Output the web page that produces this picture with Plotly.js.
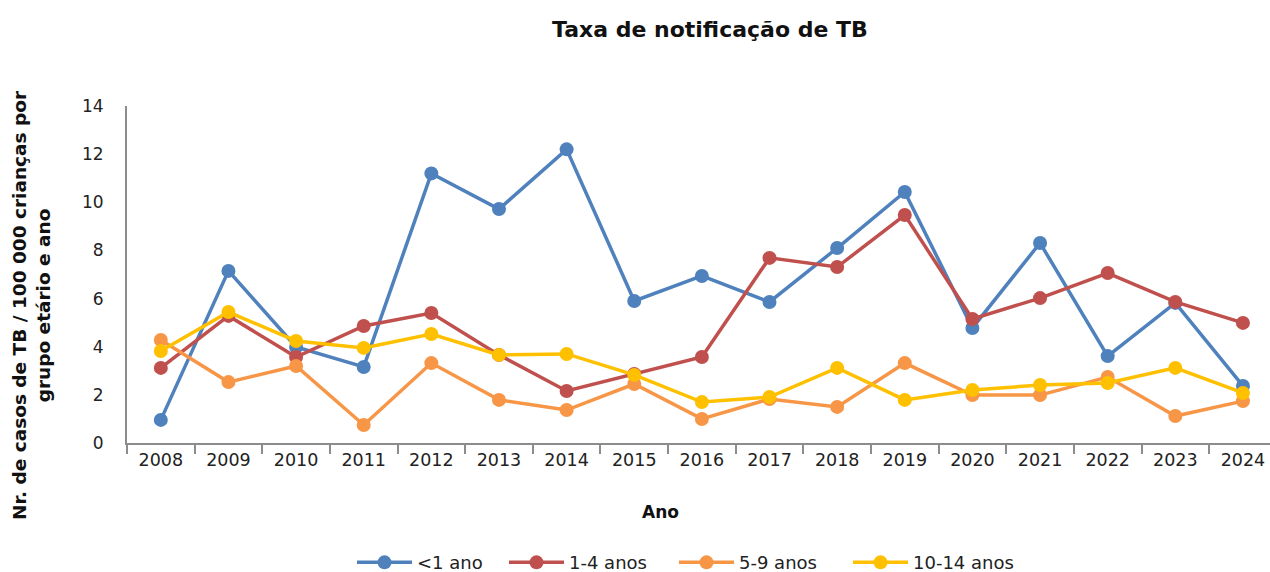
<!DOCTYPE html>
<html><head><meta charset="utf-8">
<script src="https://cdn.plot.ly/plotly-3.0.1.min.js"></script>
<style>html,body{margin:0;padding:0;background:#fff;}#chart{width:1270px;height:572px;}</style>
</head><body><div id="chart"></div>
<script>
const years = ['2008','2009','2010','2011','2012','2013','2014','2015','2016','2017','2018','2019','2020','2021','2022','2023','2024'];
const seriesNames = ['<1 ano','1-4 anos','5-9 anos','10-14 anos'];
const lt1 = [0.96,7.15,3.99,3.16,11.2,9.72,12.2,5.9,6.94,5.86,8.1,10.43,4.78,8.31,3.61,5.82,2.37];
const a1to4 = [3.12,5.28,3.57,4.86,5.4,3.66,2.16,2.87,3.57,7.69,7.31,9.47,5.15,6.02,7.06,5.86,4.99];
const a5to9 = [4.28,2.53,3.2,0.75,3.32,1.79,1.37,2.45,1.0,1.83,1.5,3.32,1.99,1.99,2.74,1.12,1.74];
const a10to14 = [3.82,5.44,4.24,3.95,4.53,3.66,3.7,2.83,1.7,1.91,3.12,1.79,2.2,2.41,2.49,3.12,2.08];
const colors = ['#4f81bd','#c0504d','#f79646','#ffc000'];
const FONT = '"DejaVu Sans", Verdana, sans-serif';
const legendIds = ['legend','legend2','legend3','legend4'];
const legendLeftPx = [352, 504, 674, 848];
const data = [lt1,a1to4,a5to9,a10to14].map((v,i)=>({
  x: years, y: v, name: seriesNames[i], type:'scatter', mode:'lines+markers',
  line:{color:colors[i], width:3.5}, marker:{color:colors[i], size:14}, legend: legendIds[i]
}));
const layout = {
  width:1270, height:572,
  margin:{l:127, r:0, t:106, b:129, autoexpand:false},
  paper_bgcolor:'#fff', plot_bgcolor:'#fff',
  font:{family:FONT, size:16, color:'#222'},
  title:{text:'<b>Taxa de notificação de TB</b>', x:0.559, xanchor:'center', y:0.948, yanchor:'middle', font:{size:22, color:'#111', family:FONT}},
  xaxis:{type:'category', showgrid:false, showline:true, linecolor:'#8c8c8c', linewidth:2,
    ticks:'outside', tickson:'boundaries', ticklen:9, tickcolor:'#8c8c8c', tickwidth:2,
    tickfont:{size:17.5, color:'#222'}, range:[-0.5,16.4], zeroline:false},
  yaxis:{range:[0,14], dtick:2, showgrid:false, showline:true, linecolor:'#8c8c8c', linewidth:2,
    ticks:'', tickfont:{size:17, color:'#222'}, zeroline:false, ticklabelstandoff:18},
  showlegend:true,
  annotations:[{
    text:'<b>Nr. de casos de TB / 100 000 crianças por<br>grupo etário e ano</b>',
    xref:'paper', yref:'paper', x:-0.083, y:0.41, xanchor:'center', yanchor:'middle',
    textangle:-90, showarrow:false, font:{size:18.5, color:'#111', family:FONT}, align:'center'
  },{
    text:'<b>Ano</b>', xref:'paper', yref:'paper', x:(660-127)/1143, y:-(512-443)/337,
    xanchor:'center', yanchor:'middle', showarrow:false, font:{size:17, color:'#111', family:FONT}
  }]
};
legendIds.forEach((id,i)=>{
  layout[id] = {orientation:'h', x:(legendLeftPx[i]-127)/1143, xanchor:'left', y:-0.355, yanchor:'middle',
    font:{size:18, color:'#222'}, itemwidth:55, bgcolor:'rgba(0,0,0,0)'};
});
Plotly.newPlot('chart', data, layout, {displayModeBar:false, staticPlot:true});
</script></body></html>
